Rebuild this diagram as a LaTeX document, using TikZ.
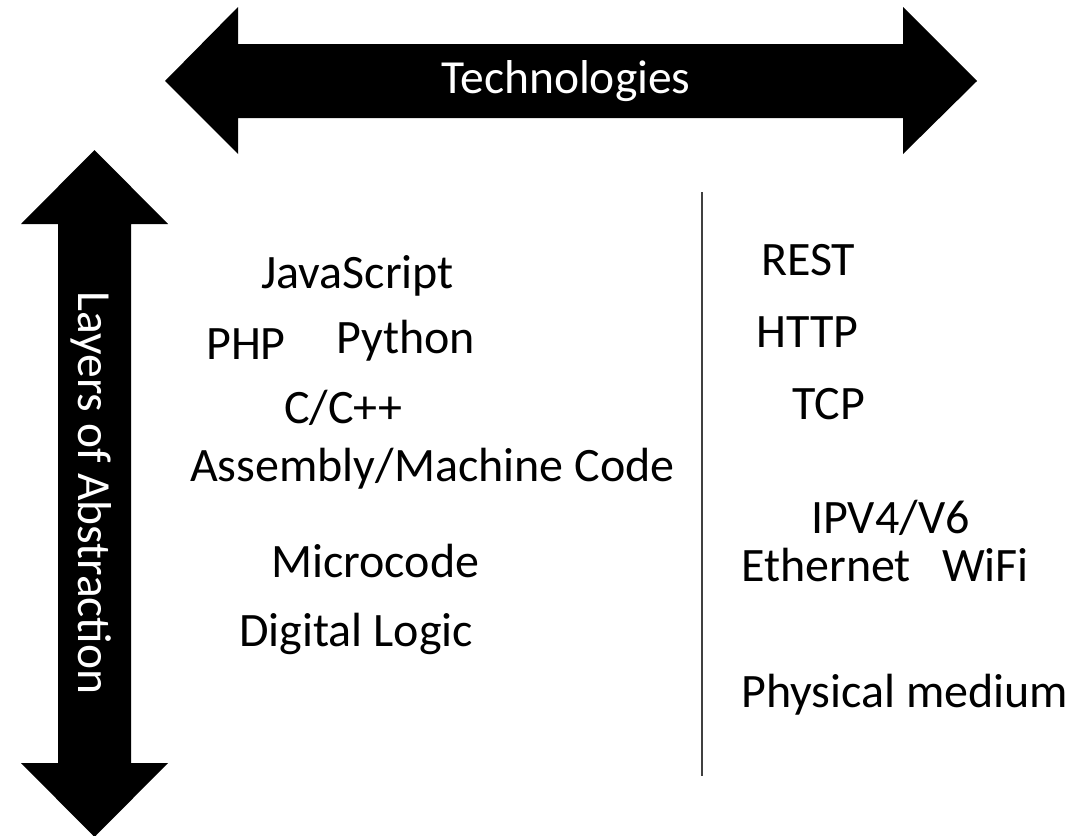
\documentclass[tikz,border=0pt]{standalone}
\usepackage{fontspec}
\setmainfont{Carlito}
\begin{document}
\begin{tikzpicture}[x=1pt,y=-1pt,
  lbl/.style={anchor=base west,inner sep=0pt,font=\fontsize{48}{57}\selectfont},
  arrowlbl/.style={inner sep=0pt,text=white,font=\fontsize{47.5}{57}\selectfont},
  bigarrow/.style={fill=black,draw=none}]
\useasboundingbox (0,0) rectangle (1089,835);
% horizontal double arrow
\fill[bigarrow] (165,81) -- (238,7) -- (238,44) -- (903,44) -- (903,7) -- (977,81)
  -- (903,154) -- (903,118) -- (238,118) -- (238,154) -- cycle;
\node[arrowlbl,anchor=base] (tech) at (566,93) {Technologies};
% vertical double arrow
\fill[bigarrow] (94.5,150) -- (168,224) -- (131,224) -- (131,763) -- (168,763) -- (94.5,837)
  -- (21,763) -- (58,763) -- (58,224) -- (21,224) -- cycle;
\node[arrowlbl,anchor=base,rotate=-90] (layers) at (78,493) {Layers of Abstraction};
% divider
\coordinate (dtop) at (702,192);
\coordinate (dbot) at (702,776);
\draw[line width=1.3pt,color=black!75] (dtop) -- (dbot);
% left column
\node[lbl] (js) at (261,288) {JavaScript};
\node[lbl] (php) at (206,359) {PHP};
\node[lbl] (py) at (336,353) {Python};
\node[lbl] (cpp) at (284,423) {C/C++};
\node[lbl] (asm) at (190,481) {Assembly/Machine Code};
\node[lbl] (micro) at (271,577) {Microcode};
\node[lbl] (dig) at (239,646) {Digital Logic};
% right column
\node[lbl] (rest) at (761,275) {REST};
\node[lbl] (http) at (756,347) {HTTP};
\node[lbl] (tcp) at (792,419) {TCP};
\node[lbl] (ip) at (811,533) {IPV4/V6};
\node[lbl] (eth) at (741,581) {Ethernet};
\node[lbl] (wifi) at (942,581) {WiFi};
\node[lbl] (phys) at (741,707) {Physical medium};
\end{tikzpicture}
\end{document}
